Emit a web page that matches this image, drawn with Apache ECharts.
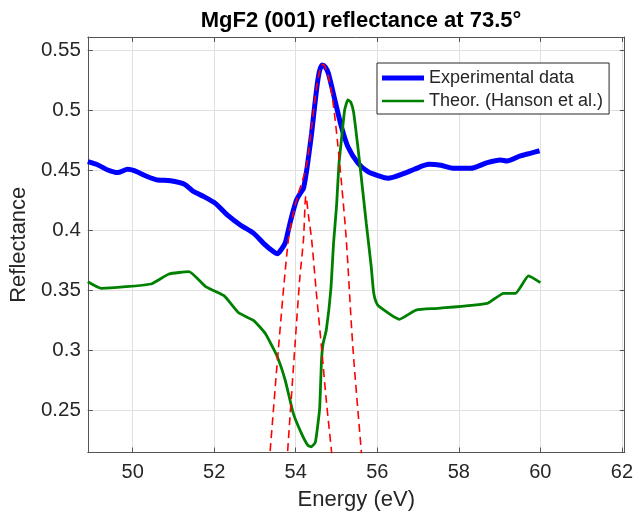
<!DOCTYPE html>
<html>
<head>
<meta charset="utf-8">
<script src="https://cdn.jsdelivr.net/npm/echarts@6/dist/echarts.min.js"></script>
<style>html,body{margin:0;padding:0;background:#fff}#c{width:636px;height:520px}</style>
</head>
<body>
<div id="c"></div>
<script>
const titleText = 'MgF2 (001) reflectance at 73.5°';
const xName = 'Energy (eV)';
const yName = 'Reflectance';
const seriesNames = ['Experimental data', 'Theor. (Hanson et al.)', 'Fit peak 1', 'Fit peak 2'];

const experimental = [
[48.90,0.4569],[49.15,0.4542],[49.39,0.4500],[49.63,0.4478],[49.88,0.4506],[50.04,0.4494],
[50.37,0.4444],[50.61,0.4417],[50.93,0.4411],[51.26,0.4383],[51.50,0.4319],[51.75,0.4278],
[52.03,0.4222],[52.32,0.4125],[52.64,0.4042],[52.97,0.3972],[53.21,0.3889],[53.45,0.3820],
[53.55,0.3803],[53.65,0.3840],[53.74,0.3890],[53.82,0.4000],[53.90,0.4111],[54.02,0.4250],
[54.12,0.4310],[54.19,0.4347],[54.27,0.4500],[54.33,0.4650],[54.39,0.4806],[54.51,0.5167],
[54.58,0.5320],[54.65,0.5375],[54.72,0.5360],[54.80,0.5306],[54.96,0.5083],[55.12,0.4861],
[55.28,0.4694],[55.53,0.4556],[55.77,0.4486],[56.00,0.4455],[56.26,0.4431],[56.66,0.4472],
[56.91,0.4506],[57.27,0.4547],[57.56,0.4539],[57.88,0.4514],[58.29,0.4514],[58.70,0.4561],
[59.02,0.4583],[59.18,0.4575],[59.51,0.4617],[59.75,0.4639],[59.98,0.4660]
];

const theoretical = [
[48.90,0.3569],[49.23,0.3514],[50.45,0.3550],[50.89,0.3633],[51.38,0.3653],[51.79,0.3528],
[52.24,0.3453],[52.60,0.3310],[52.97,0.3244],[53.25,0.3139],[53.53,0.2958],[53.74,0.2750],
[53.94,0.2472],[54.14,0.2306],[54.30,0.2205],[54.38,0.2194],[54.48,0.2230],[54.55,0.2400],
[54.59,0.2528],[54.63,0.2900],[54.67,0.3050],[54.75,0.3167],[54.86,0.3500],[54.93,0.3900],
[55.00,0.4194],[55.06,0.4550],[55.12,0.4750],[55.20,0.5000],[55.28,0.5083],[55.35,0.5065],
[55.42,0.4980],[55.57,0.4556],[55.73,0.4056],[55.85,0.3700],[55.91,0.3480],[55.97,0.3400],
[56.05,0.3361],[56.54,0.3256],[56.95,0.3333],[57.48,0.3347],[58.70,0.3389],[59.10,0.3472],
[59.39,0.3472],[59.71,0.3617],[60.00,0.3561]
];

const fitPeak1 = [
[53.35,0.205],[53.37,0.2146],[53.58,0.303],[53.82,0.392],[53.95,0.415],[54.06,0.430],
[54.18,0.443],[54.27,0.455],[54.39,0.486],[54.51,0.519],[54.60,0.534],[54.66,0.538],
[54.73,0.535],[54.82,0.525],[54.92,0.505],[55.02,0.475],[55.12,0.440],[55.24,0.392],
[55.40,0.303],[55.61,0.2146],[55.63,0.205]
];

const fitPeak2 = [
[53.79,0.205],[53.80,0.2146],[53.98,0.303],[54.10,0.360],[54.19,0.392],[54.25,0.428],
[54.32,0.410],[54.39,0.392],[54.50,0.350],[54.63,0.303],[54.75,0.258],[54.88,0.2146],[54.90,0.205]
];

const xTicks = [50, 52, 54, 56, 58, 60, 62];
const yTicks = [0.25, 0.3, 0.35, 0.4, 0.45, 0.5, 0.55];

const chart = echarts.init(document.getElementById('c'), null, {renderer: 'canvas'});
const FONT = 'Liberation Sans, Arial, Helvetica, sans-serif';
const TXT = '#262626';
const AX = '#555555';
const XMIN = 48.9, XMAX = 62.07, YMIN = 0.2146, YMAX = 0.5608;

function fmtY(v){ return yTicks.some(t=>Math.abs(t-v)<1e-6) ? String(+v.toFixed(2)) : ''; }
function fmtX(v){ return xTicks.some(t=>Math.abs(t-v)<1e-6) ? String(v) : ''; }

const baseAxis = {
  type: 'value',
  axisLine: {show: true, onZero: false, lineStyle: {color: AX, width: 1}},
  axisTick: {show: true, inside: true, length: 5, lineStyle: {color: AX, width: 1}},
};

chart.setOption({
  animation: false,
  backgroundColor: '#ffffff',
  title: {
    text: titleText, left: 356, top: 5, textAlign: 'center',
    textStyle: {fontFamily: FONT, fontSize: 22, fontWeight: 'bold', color: '#000'}
  },
  grid: {left: 85, top: 37, right: 11, bottom: 67.5, containLabel: false},
  legend: {
    data: [
      {name: seriesNames[0], icon: 'path://M0,0h0.01v14h-0.01z M0,4.5h42v5h-42z', itemStyle: {color: '#0000ff'}},
      {name: seriesNames[1], icon: 'path://M0,0h0.01v14h-0.01z M0,5.7h42v2.6h-42z', itemStyle: {color: '#008000'}}
    ],
    orient: 'vertical', left: 377, top: 63,
    itemWidth: 42, itemHeight: 14, itemGap: 5,
    padding: [6, 6, 4, 5],
    backgroundColor: '#fff', borderColor: '#262626', borderWidth: 1, borderRadius: 0,
    textStyle: {fontFamily: FONT, fontSize: 18, color: TXT}
  },
  xAxis: [
    Object.assign({}, baseAxis, {
      min: XMIN, max: XMAX, minInterval: 2, maxInterval: 2, position: 'bottom',
      name: xName, nameLocation: 'middle', nameGap: 36,
      nameTextStyle: {fontFamily: FONT, fontSize: 22, color: TXT},
      axisLabel: {fontFamily: FONT, fontSize: 20, color: TXT, margin: 10, formatter: fmtX, showMinLabel: false, showMaxLabel: false},
      splitLine: {show: true, lineStyle: {color: '#e0e0e0', width: 1}}
    }),
    Object.assign({}, baseAxis, {
      min: XMIN, max: XMAX, minInterval: 2, maxInterval: 2, position: 'top',
      axisLabel: {show: false}, splitLine: {show: false}
    })
  ],
  yAxis: [
    Object.assign({}, baseAxis, {
      min: YMIN, max: YMAX, minInterval: 0.05, maxInterval: 0.05, position: 'left',
      name: yName, nameLocation: 'middle', nameGap: 54,
      nameTextStyle: {fontFamily: FONT, fontSize: 22, color: TXT},
      axisLabel: {fontFamily: FONT, fontSize: 20.5, color: TXT, margin: 7, formatter: fmtY, showMinLabel: false, showMaxLabel: false},
      splitLine: {show: true, lineStyle: {color: '#e0e0e0', width: 1}}
    }),
    Object.assign({}, baseAxis, {
      min: YMIN, max: YMAX, minInterval: 0.05, maxInterval: 0.05, position: 'right',
      axisLabel: {show: false}, splitLine: {show: false}
    })
  ],
  series: [
    {name: seriesNames[0], type: 'line', data: experimental, symbol: 'none', smooth: 0.25,
     lineStyle: {color: '#0000ff', width: 5}, itemStyle: {color: '#0000ff'}, z: 2},
    {name: seriesNames[1], type: 'line', data: theoretical, symbol: 'none', smooth: 0.15,
     lineStyle: {color: '#008000', width: 2.8}, itemStyle: {color: '#008000'}, z: 3},
    {name: seriesNames[2], type: 'line', data: fitPeak1, symbol: 'none', smooth: 0.3,
     lineStyle: {color: '#ff0000', width: 1.6, type: [8, 5]}, itemStyle: {color: '#ff0000'}, z: 4},
    {name: seriesNames[3], type: 'line', data: fitPeak2, symbol: 'none', smooth: 0.3,
     lineStyle: {color: '#ff0000', width: 1.6, type: [8, 5]}, itemStyle: {color: '#ff0000'}, z: 4}
  ]
});
</script>
</body>
</html>
